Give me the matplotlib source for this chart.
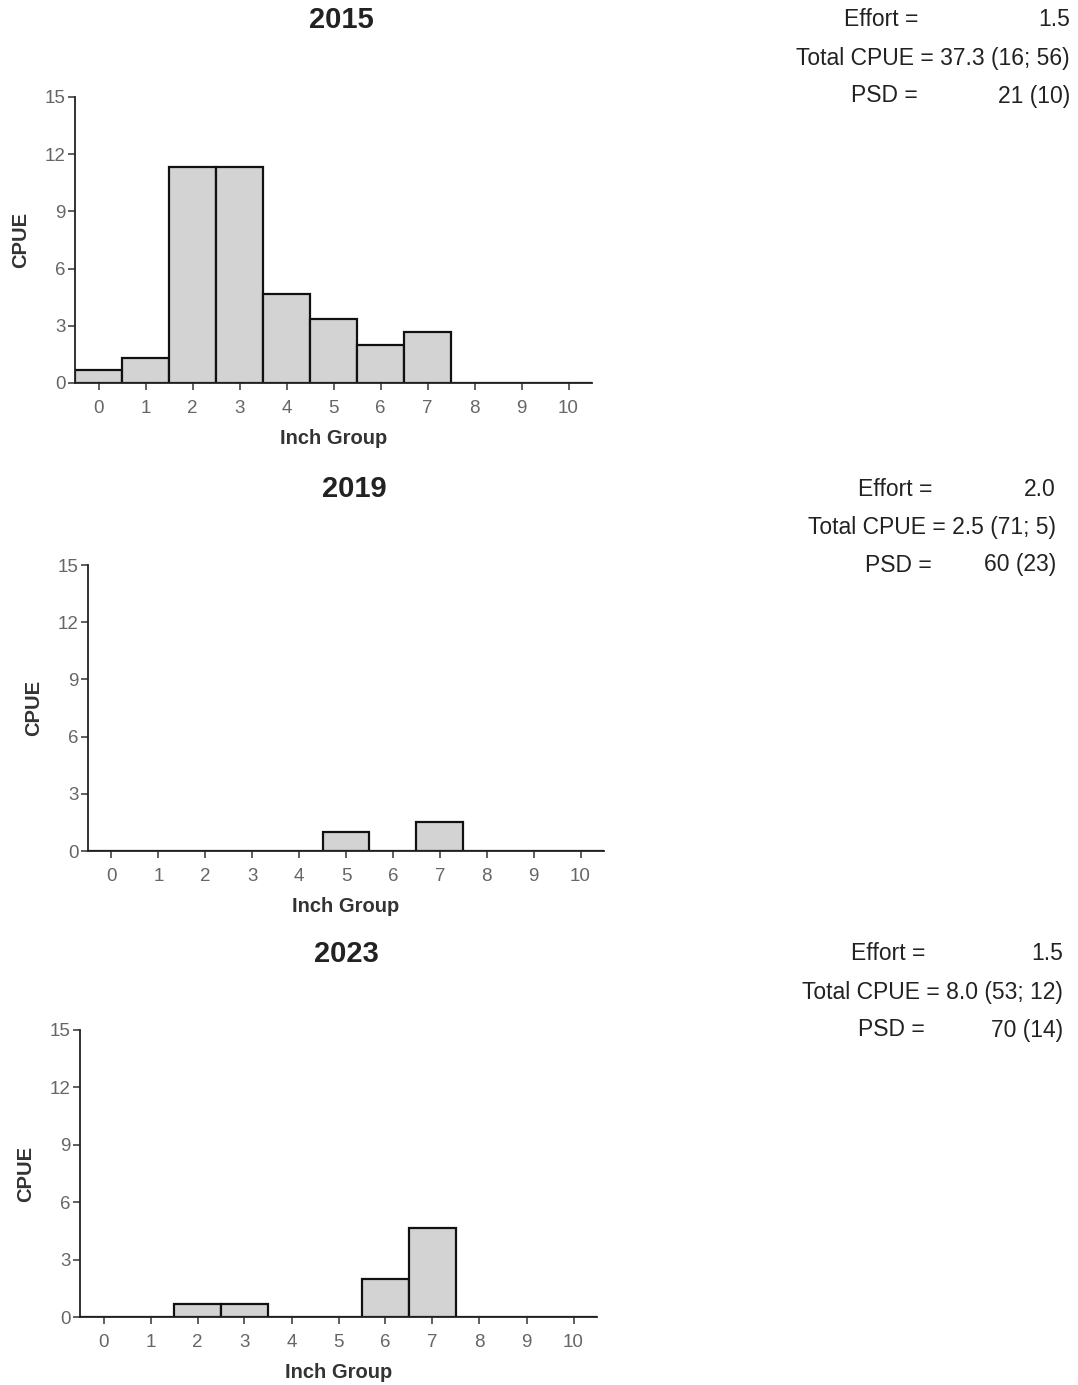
import matplotlib.pyplot as plt

plt.rcParams['font.family'] = ['Liberation Sans', 'DejaVu Sans']

# inch groups and CPUE per year
inch_groups = [0, 1, 2, 3, 4, 5, 6, 7, 8, 9, 10]
tick_labels = ['0', '1', '2', '3', '4', '5', '6', '7', '8', '9', '10']
years = ['2015', '2019', '2023']
cpue_2015 = [0.667, 1.333, 11.333, 11.333, 4.667, 3.333, 2.0, 2.667, 0, 0, 0]
cpue_2019 = [0, 0, 0, 0, 0, 1.0, 0, 1.5, 0, 0, 0]
cpue_2023 = [0, 0, 0.667, 0.667, 0, 0, 2.0, 4.667, 0, 0, 0]
effort = ['1.5', '2.0', '1.5']
total_cpue = ['37.3 (16; 56)', '2.5 (71; 5)', '8.0 (53; 12)']
psd = ['21 (10)', '60 (23)', '70 (14)']
yticks = [0, 3, 6, 9, 12, 15]

W, H = 1078, 1385
fig = plt.figure(figsize=(W / 100, H / 100), dpi=100)

# axes boxes in pixels: left, right, top, bottom
boxes = [(75, 592, 97, 383), (88, 604, 565, 851), (80, 597, 1030, 1317)]
title_y = [20, 489, 954]
text_right = [1070, 1056, 1063]
eq_right = [918, 932, 925]
all_cpue = [cpue_2015, cpue_2019, cpue_2023]

for i in range(3):
    l, r, t, b = boxes[i]
    ax = fig.add_axes([l / W, 1 - b / H, (r - l) / W, (b - t) / H])
    ax.bar(inch_groups, all_cpue[i], width=1.0, color='#d3d3d3',
           edgecolor='#111111', linewidth=1.6)
    ax.set_xlim(-0.5, 10.5)
    ax.set_ylim(0, 15)
    ax.set_xticks(inch_groups)
    ax.set_xticklabels(tick_labels)
    ax.set_yticks(yticks)
    ax.spines['top'].set_visible(False)
    ax.spines['right'].set_visible(False)
    for s in ['left', 'bottom']:
        ax.spines[s].set_linewidth(1.3)
        ax.spines[s].set_color('#222222')
    ax.tick_params(axis='both', direction='out', length=5, width=1.2,
                   color='#444444', labelcolor='#666666', labelsize=13.5)
    ax.tick_params(axis='x', pad=7)
    ax.tick_params(axis='y', pad=2)
    ax.set_xlabel('Inch Group', fontsize=14.5, fontweight='bold', color='#333333', labelpad=9)
    ax.set_ylabel('CPUE', fontsize=14.5, fontweight='bold', color='#333333', labelpad=10)

    cx = ((l + r) / 2 + 8) / W
    fig.text(cx, 1 - title_y[i] / H, years[i], ha='center', va='center',
             fontsize=21, fontweight='bold', color='#222222')

    ys = [title_y[i], title_y[i] + 38, title_y[i] + 76]
    fig.text(eq_right[i] / W, 1 - ys[0] / H, 'Effort =', ha='right', va='center',
             fontsize=16.5, color='#222222')
    fig.text(text_right[i] / W, 1 - ys[0] / H, effort[i], ha='right', va='center',
             fontsize=16.5, color='#222222')
    fig.text(text_right[i] / W, 1 - ys[1] / H, 'Total CPUE = ' + total_cpue[i],
             ha='right', va='center', fontsize=16.5, color='#222222')
    fig.text(eq_right[i] / W, 1 - ys[2] / H, 'PSD =', ha='right', va='center',
             fontsize=16.5, color='#222222')
    fig.text(text_right[i] / W, 1 - ys[2] / H, psd[i], ha='right', va='center',
             fontsize=16.5, color='#222222')

plt.savefig('out.png', dpi=100)
